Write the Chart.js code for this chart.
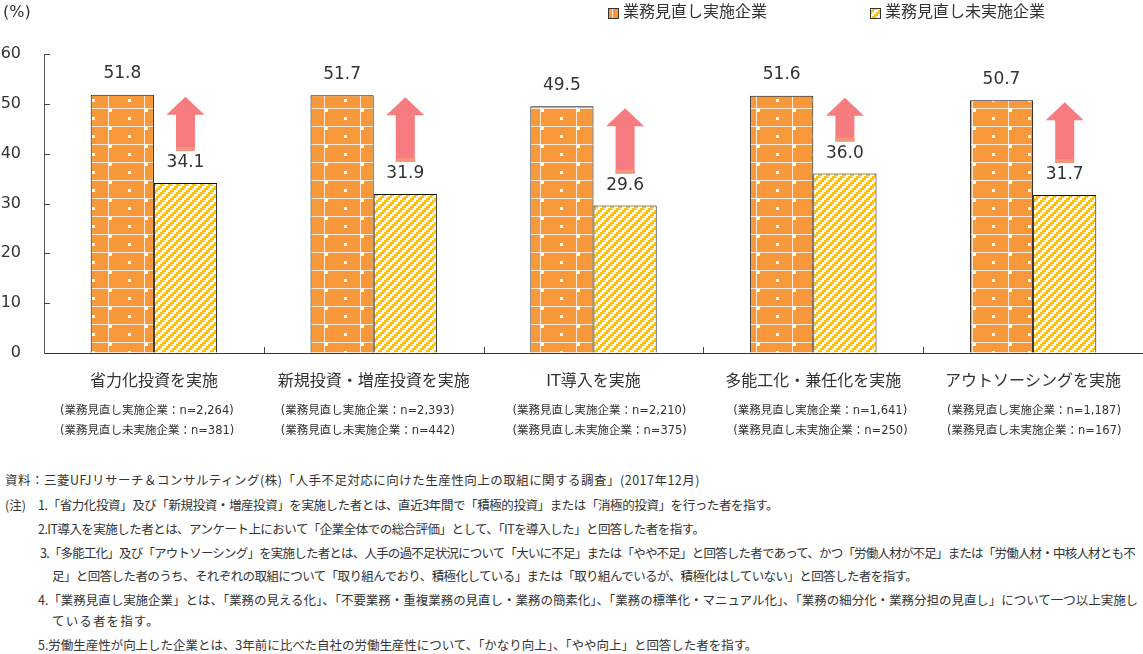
<!DOCTYPE html>
<html lang="ja">
<head>
<meta charset="UTF-8">
<title>業務見直しと取組の実施割合</title>
<script src="https://cdn.jsdelivr.net/npm/chart.js@4"></script>
<style>
  body { margin: 0; background: #fff; }
  #wrap { position: relative; width: 1143px; height: 654px; overflow: hidden; }
  #box { position: absolute; left: 0; top: 0; width: 1143px; height: 460px; }
  .note {
    position: absolute; white-space: nowrap; color: #333;
    font-family: "Noto Sans CJK JP", sans-serif; font-size: 12.5px; line-height: 16px;
  }
</style>
</head>
<body>
<div id="wrap">
  <div id="box"><canvas id="chart"></canvas></div>
  <div class="note" data-r="700" style="left:5px;top:472px">資料：三菱UFJリサーチ＆コンサルティング(株)「人手不足対応に向けた生産性向上の取組に関する調査」(2017年12月)</div>
  <div class="note" style="left:5px;top:497px">(注)</div>
  <div class="note" data-r="778" style="left:38px;top:497px">1.「省力化投資」及び「新規投資・増産投資」を実施した者とは、直近3年間で「積極的投資」または「消極的投資」を行った者を指す。</div>
  <div class="note" data-r="704" style="left:38px;top:521px">2.IT導入を実施した者とは、アンケート上において「企業全体での総合評価」として、「ITを導入した」と回答した者を指す。</div>
  <div class="note" data-r="1135" style="left:40px;top:545px">3.「多能工化」及び「アウトソーシング」を実施した者とは、人手の過不足状況について「大いに不足」または「やや不足」と回答した者であって、かつ「労働人材が不足」または「労働人材・中核人材とも不</div>
  <div class="note" data-r="917" style="left:52px;top:568px">足」と回答した者のうち、それぞれの取組について「取り組んでおり、積極化している」または「取り組んでいるが、積極化はしていない」と回答した者を指す。</div>
  <div class="note" data-r="1138" style="left:38px;top:592px">4.「業務見直し実施企業」とは、「業務の見える化」、「不要業務・重複業務の見直し・業務の簡素化」、「業務の標準化・マニュアル化」、「業務の細分化・業務分担の見直し」について一つ以上実施し</div>
  <div class="note" data-r="160" style="left:52px;top:613px">ている者を指す。</div>
  <div class="note" data-r="757" style="left:38px;top:637px">5.労働生産性が向上した企業とは、3年前に比べた自社の労働生産性について、「かなり向上」、「やや向上」と回答した者を指す。</div>
</div>

<script>
const categories = ['省力化投資を実施', '新規投資・増産投資を実施', 'IT導入を実施', '多能工化・兼任化を実施', 'アウトソーシングを実施'];
const seriesNames = ['業務見直し実施企業', '業務見直し未実施企業'];
const reviewed = [51.8, 51.7, 49.5, 51.6, 50.7];
const notReviewed = [34.1, 31.9, 29.6, 36.0, 31.7];
const nReviewed = ['2,264', '2,393', '2,210', '1,641', '1,187'];
const nNotReviewed = ['381', '442', '375', '250', '167'];
const yTicks = [0, 10, 20, 30, 40, 50, 60];

const FONT = '"DejaVu Sans", "Noto Sans CJK JP", sans-serif';
const TEXT = '#333';

// squeeze or widen the note lines to the widths of the source
document.querySelectorAll('.note[data-r]').forEach(el => {
  const target = +el.dataset.r - el.offsetLeft;
  const chars = el.textContent.length;
  const ls = (target - el.scrollWidth) / chars;
  el.style.letterSpacing = ls.toFixed(3) + 'px';
});

// orange brick pattern with white dots
function brickPattern(ctx) {
  const c = document.createElement('canvas');
  c.width = 36; c.height = 18;
  const g = c.getContext('2d');
  g.fillStyle = '#F7993B';
  g.fillRect(0, 0, 36, 18);
  g.fillStyle = 'rgba(255,255,255,0.8)';
  g.fillRect(0, 0, 36, 1);
  g.fillRect(0, 0, 1, 18);
  g.fillStyle = '#fff';
  g.fillRect(1, 1, 3, 3);
  g.fillRect(20, 9, 3, 3);
  return ctx.createPattern(c, 'repeat');
}

// yellow staircase diagonal pattern
function stairPattern(ctx) {
  const c = document.createElement('canvas');
  c.width = 8; c.height = 8;
  const g = c.getContext('2d');
  g.fillStyle = '#fff';
  g.fillRect(0, 0, 8, 8);
  for (let i = 0; i < 4; i++) {
    for (let j = 0; j < 4; j++) {
      const d = (i + j) % 4;
      if (d === 0 || d === 1) {
        g.fillStyle = '#FFC20E';
        g.fillRect(i * 2, j * 2, 2, 2);
      } else if (d === 2 && i % 2 === 0) {
        g.fillStyle = '#FFE7A6';
        g.fillRect(i * 2, j * 2, 2, 2);
      }
    }
  }
  return ctx.createPattern(c, 'repeat');
}

const canvas = document.getElementById('chart');
const c2d = canvas.getContext('2d');
const orangeFill = brickPattern(c2d);
const yellowFill = stairPattern(c2d);

function drawArrow(ctx, cx, tip, base) {
  const bodyW = 19, headW = 38, headH = 18;
  ctx.fillStyle = '#F67C7F';
  ctx.beginPath();
  ctx.moveTo(cx, tip);
  ctx.lineTo(cx + headW / 2, tip + headH);
  ctx.lineTo(cx + bodyW / 2, tip + headH);
  ctx.lineTo(cx + bodyW / 2, base);
  ctx.lineTo(cx - bodyW / 2, base);
  ctx.lineTo(cx - bodyW / 2, tip + headH);
  ctx.lineTo(cx - headW / 2, tip + headH);
  ctx.closePath();
  ctx.fill();
  ctx.fillStyle = '#F5957A';
  ctx.fillRect(cx - bodyW / 2, base - 4, bodyW, 4);
}

const overlay = {
  id: 'overlay',
  afterDatasetsDraw(chart) {
    const { ctx, scales: { x, y } } = chart;
    ctx.save();

    // inward tick marks
    ctx.strokeStyle = '#444';
    ctx.lineWidth = 1;
    yTicks.forEach(v => {
      if (v === 0) return;
      const py = Math.round(y.getPixelForValue(v)) + 0.5;
      ctx.beginPath();
      ctx.moveTo(x.left, py);
      ctx.lineTo(x.left + 6, py);
      ctx.stroke();
    });
    for (let i = 1; i < categories.length; i++) {
      const px = Math.round((x.getPixelForValue(i - 1) + x.getPixelForValue(i)) / 2) + 0.5;
      ctx.beginPath();
      ctx.moveTo(px, y.bottom);
      ctx.lineTo(px, y.bottom - 6);
      ctx.stroke();
    }

    const metaA = chart.getDatasetMeta(0);
    const metaB = chart.getDatasetMeta(1);

    // arrows
    metaB.data.forEach((bar, i) => {
      drawArrow(ctx, bar.x, metaA.data[i].y + 2, bar.y - 32);
    });

    // value labels
    ctx.fillStyle = TEXT;
    ctx.font = '17px ' + FONT;
    ctx.textAlign = 'center';
    ctx.textBaseline = 'middle';
    metaA.data.forEach((bar, i) => ctx.fillText(reviewed[i].toFixed(1), bar.x, bar.y - 21));
    metaB.data.forEach((bar, i) => ctx.fillText(notReviewed[i].toFixed(1), bar.x, bar.y - 20));

    // sample sizes under categories
    const shift = [0, 1, 13, 14, 8];
    ctx.font = '11.5px ' + FONT;
    ctx.textAlign = 'left';
    categories.forEach((c, i) => {
      const lx = x.getPixelForValue(i) - 94 + shift[i];
      ctx.fillText('(' + seriesNames[0] + '：n=' + nReviewed[i] + ')', lx, 411);
      ctx.fillText('(' + seriesNames[1] + '：n=' + nNotReviewed[i] + ')', lx, 431);
    });

    // unit and legend
    ctx.font = '16px ' + FONT;
    ctx.fillText('(%)', 3, 13);
    const legendX = [608, 870];
    [orangeFill, yellowFill].forEach((fill, i) => {
      ctx.fillStyle = fill;
      ctx.fillRect(legendX[i], 8, 10, 10);
      ctx.strokeStyle = '#333';
      ctx.strokeRect(legendX[i] + 0.5, 8.5, 10, 10);
      ctx.fillStyle = TEXT;
      ctx.fillText(seriesNames[i], legendX[i] + 15, 13);
    });

    ctx.restore();
  }
};

new Chart(canvas, {
  type: 'bar',
  data: {
    labels: categories,
    datasets: [
      { label: seriesNames[0], data: reviewed, backgroundColor: orangeFill, borderColor: '#111', borderWidth: 1 },
      { label: seriesNames[1], data: notReviewed, backgroundColor: yellowFill, borderColor: '#111', borderWidth: 1 }
    ]
  },
  options: {
    responsive: true,
    maintainAspectRatio: false,
    animation: false,
    events: [],
    barPercentage: 1,
    categoryPercentage: 0.575,
    layout: { padding: { top: 54, right: 0, left: 0, bottom: 0 } },
    plugins: { legend: { display: false }, tooltip: { enabled: false } },
    scales: {
      x: {
        grid: { drawOnChartArea: false, drawTicks: false },
        border: { color: '#333', width: 1 },
        ticks: { color: TEXT, font: { family: FONT, size: 16 }, padding: 19, maxRotation: 0, autoSkip: false },
        afterFit(scale) { scale.height = 107; }
      },
      y: {
        min: 0,
        max: 60,
        grid: { drawOnChartArea: false, drawTicks: false },
        border: { color: '#555', width: 1 },
        ticks: { stepSize: 10, color: TEXT, font: { family: FONT, size: 16 }, padding: 23 },
        afterFit(scale) { scale.width = 44; }
      }
    }
  },
  plugins: [overlay]
});
</script>
</body>
</html>
